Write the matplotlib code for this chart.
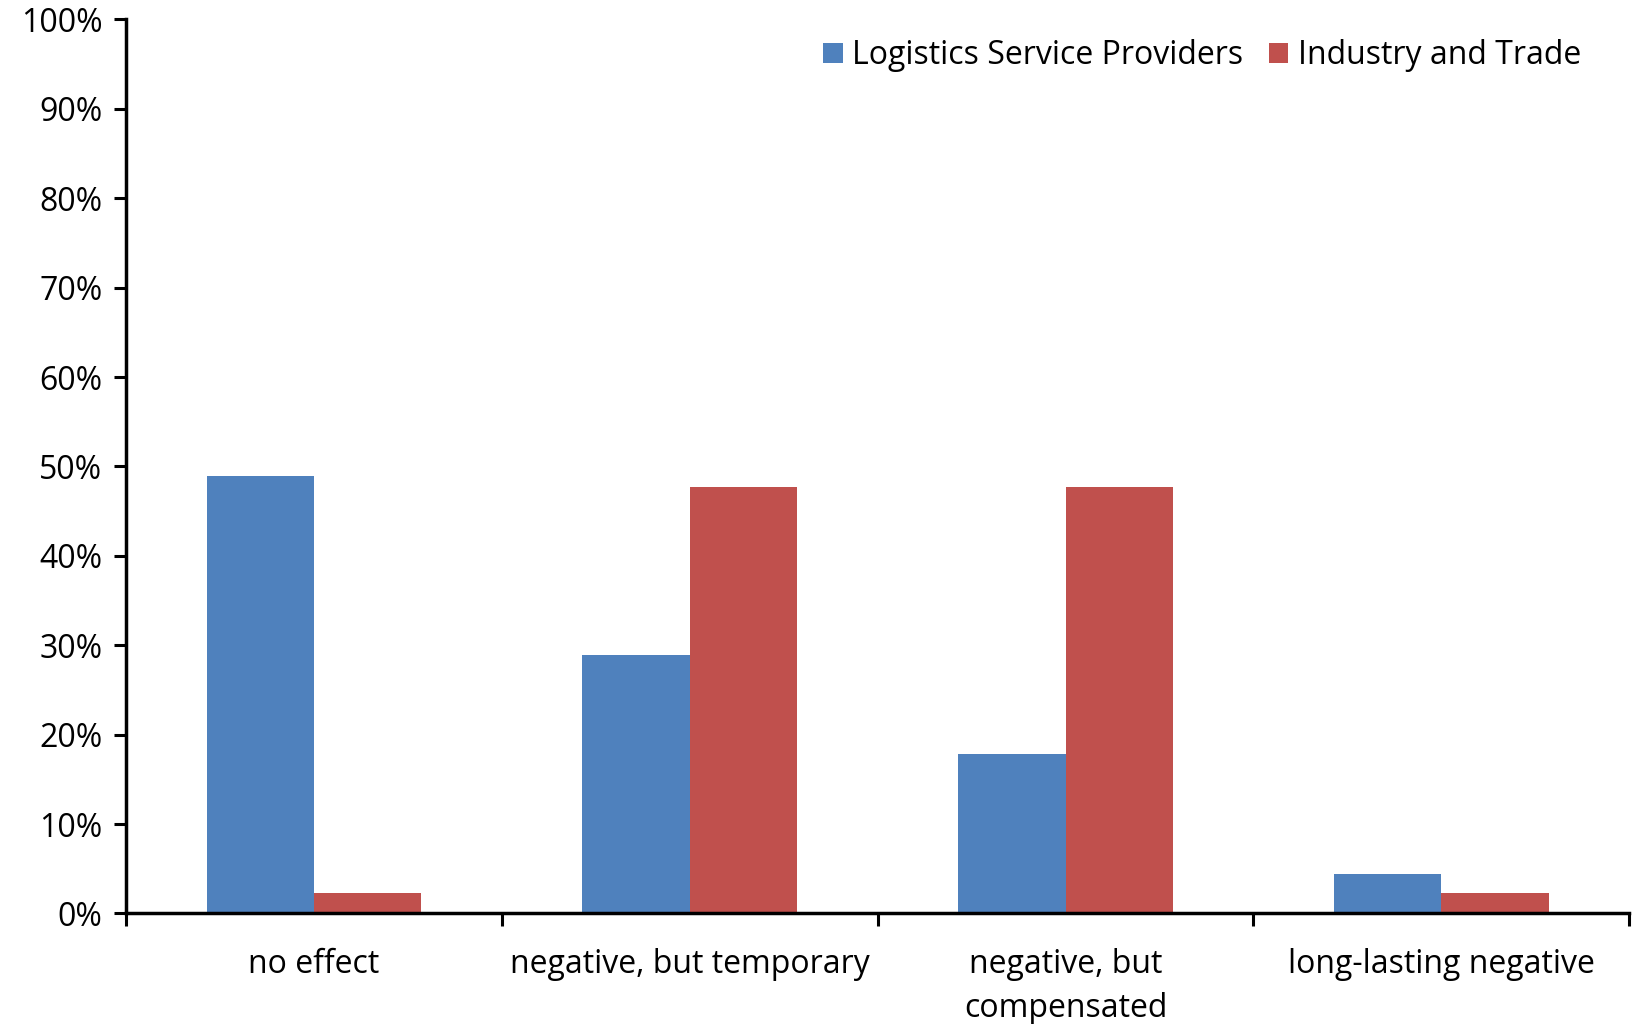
import matplotlib
matplotlib.use("Agg")
import matplotlib.pyplot as plt
import numpy as np
from matplotlib.ticker import FixedLocator, NullFormatter, FuncFormatter

categories = ["no effect", "negative, but temporary", "negative, but\ncompensated", "long-lasting negative"]
series_names = ["Logistics Service Providers", "Industry and Trade"]
lsp = [48.9, 28.9, 17.8, 4.4]
ind = [2.3, 47.7, 47.7, 2.3]
colors = ["#4F81BD", "#C0504D"]

plt.rcParams['font.family'] = ['Open Sans', 'DejaVu Sans']

fig = plt.figure(figsize=(16.41, 10.24), dpi=100)
ax = fig.add_axes([0.0768, 0.108, 0.916, 0.873])

x = np.arange(len(categories))
w = 1 / 3.5
ax.bar(x - w / 2, lsp, width=w, color=colors[0], label=series_names[0])
ax.bar(x + w / 2, ind, width=w, color=colors[1], label=series_names[1])

ax.set_xlim(-0.5, len(categories) - 0.5)
ax.set_ylim(0, 100)
ax.set_yticks(np.arange(0, 101, 10))
ax.yaxis.set_major_formatter(FuncFormatter(lambda v, p: f"{int(v)}%"))

ax.xaxis.set_major_locator(FixedLocator(np.arange(-0.5, len(categories), 1.0)))
ax.xaxis.set_major_formatter(NullFormatter())
ax.xaxis.set_minor_locator(FixedLocator(x))
labels = ax.set_xticklabels(categories, minor=True)
for t in labels:
    t.set_linespacing(1.45)
ax.tick_params(axis='x', which='minor', length=0, pad=25, labelsize=23)
ax.tick_params(axis='x', which='major', length=9, width=2.2, direction='out')
ax.tick_params(axis='y', length=9, width=2.2, direction='out', labelsize=23, pad=8)

for s in ['top', 'right']:
    ax.spines[s].set_visible(False)
for s in ['left', 'bottom']:
    ax.spines[s].set_linewidth(2.5)

leg = ax.legend(loc='upper right', bbox_to_anchor=(0.987, 1.01), frameon=False, fontsize=23,
                handlelength=0.6, handleheight=0.6, handletextpad=0.3, columnspacing=0.8, ncol=2)

fig.savefig("out.png", dpi=100)
